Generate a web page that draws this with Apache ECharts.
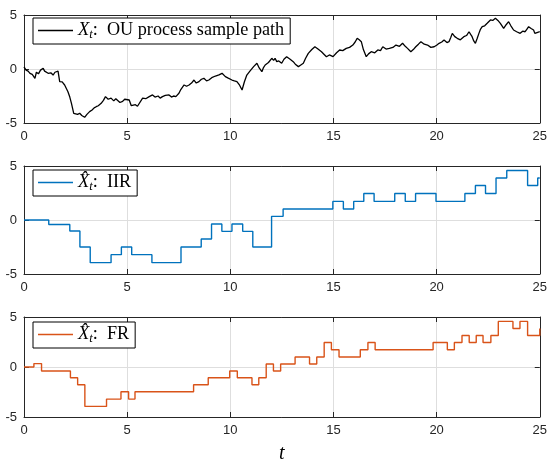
<!DOCTYPE html>
<html><head><meta charset="utf-8">
<script src="https://cdn.jsdelivr.net/npm/echarts@6/dist/echarts.min.js"></script>
<style>html,body{margin:0;padding:0;background:#fff}#c{width:550px;height:465px}</style>
</head><body><div id="c"></div>
<script>
// ---- data ----
const xTicks = [0, 5, 10, 15, 20, 25];
const yTicks = [-5, 0, 5];
// OU sample path [t, X_t]
const ouSamples = [[0,0.2],[0.1,-0.1],[0.2,-0.2],[0.29,-0.4],[0.4,-0.5],[0.53,-0.86],[0.6,-0.3],[0.7,-0.45],[0.8,-0.1],[0.93,0.06],[1.0,-0.2],[1.08,-0.1],[1.17,-0.4],[1.3,-0.35],[1.41,-0.56],[1.5,-0.3],[1.65,-0.19],[1.73,-1.17],[1.85,-1.2],[1.97,-1.48],[2.05,-1.6],[2.13,-2.1],[2.22,-2.6],[2.3,-3.18],[2.41,-4.1],[2.5,-4.0],[2.6,-4.2],[2.7,-4.1],[2.8,-4.3],[2.94,-4.47],[3.05,-4.2],[3.18,-3.95],[3.3,-3.8],[3.4,-3.6],[3.5,-3.49],[3.6,-3.4],[3.74,-3.18],[3.85,-2.9],[3.95,-2.56],[4.08,-2.8],[4.22,-2.7],[4.35,-2.95],[4.45,-2.75],[4.54,-2.87],[4.65,-3.1],[4.78,-3.0],[4.88,-2.8],[4.95,-2.7],[5.1,-2.87],[5.2,-3.4],[5.27,-3.49],[5.4,-3.3],[5.5,-3.45],[5.59,-3.33],[5.75,-2.7],[5.9,-2.75],[6.07,-2.56],[6.15,-2.65],[6.23,-2.4],[6.35,-2.6],[6.5,-2.5],[6.6,-2.7],[6.71,-2.56],[6.85,-2.45],[7.03,-2.4],[7.15,-2.6],[7.25,-2.5],[7.36,-2.56],[7.45,-2.4],[7.51,-2.25],[7.6,-1.9],[7.76,-1.48],[7.88,-1.6],[8.0,-1.48],[8.12,-1.3],[8.24,-1.02],[8.35,-1.3],[8.48,-1.17],[8.6,-0.95],[8.72,-0.86],[8.85,-1.1],[8.96,-1.02],[9.1,-0.8],[9.28,-0.65],[9.45,-0.55],[9.6,-0.4],[9.68,-0.55],[9.76,-0.71],[9.9,-0.85],[10.08,-1.02],[10.2,-1.1],[10.32,-1.17],[10.45,-1.5],[10.57,-1.94],[10.68,-1.2],[10.8,-0.56],[10.95,-0.2],[11.13,0.22],[11.2,0.35],[11.29,0.53],[11.4,0.1],[11.53,-0.25],[11.6,0.1],[11.69,0.37],[11.85,0.6],[12.01,0.99],[12.1,0.8],[12.17,0.99],[12.25,0.68],[12.35,0.75],[12.49,0.53],[12.6,0.9],[12.73,1.14],[12.9,0.9],[13.05,0.68],[13.15,0.45],[13.3,0.22],[13.4,0.35],[13.54,0.53],[13.65,1.0],[13.78,1.45],[13.95,1.8],[14.1,2.06],[14.25,1.85],[14.42,1.6],[14.55,1.35],[14.66,1.14],[14.8,1.3],[14.98,1.14],[15.15,1.5],[15.3,1.76],[15.45,1.7],[15.62,1.91],[15.78,2.0],[15.94,2.22],[16.05,2.5],[16.15,2.84],[16.25,2.7],[16.35,2.53],[16.45,1.8],[16.59,1.14],[16.7,1.4],[16.83,1.6],[17.0,1.5],[17.15,1.76],[17.28,1.7],[17.39,2.06],[17.55,1.85],[17.71,1.91],[17.88,2.0],[18.03,2.22],[18.2,2.1],[18.35,2.38],[18.48,2.1],[18.59,1.91],[18.75,1.6],[18.87,1.8],[18.99,2.06],[19.12,2.3],[19.24,2.53],[19.4,2.3],[19.56,2.22],[19.72,2.0],[19.88,2.06],[20.0,2.2],[20.12,2.38],[20.25,2.5],[20.36,2.68],[20.5,2.45],[20.6,2.53],[20.68,2.9],[20.76,3.3],[20.88,3.0],[21.0,2.84],[21.15,2.7],[21.32,2.99],[21.45,3.1],[21.57,3.45],[21.65,3.2],[21.72,2.99],[21.8,2.6],[21.88,2.38],[21.96,2.8],[22.05,3.3],[22.13,3.7],[22.21,3.92],[22.33,4.0],[22.45,4.23],[22.53,4.35],[22.61,4.54],[22.72,4.5],[22.85,4.69],[22.97,4.5],[23.09,4.23],[23.17,4.0],[23.25,3.77],[23.37,4.1],[23.49,4.38],[23.6,4.0],[23.73,3.61],[23.88,3.45],[24.05,3.3],[24.17,3.5],[24.29,3.45],[24.38,3.7],[24.46,3.92],[24.58,3.75],[24.7,3.61],[24.76,3.3],[24.82,3.14],[24.9,3.4],[25.0,3.45]];
// IIR estimate: level starts at iirTimes[i] with value iirValues[i]
const iirTimes  = [0, 1.2, 2.22, 2.71, 3.21, 4.22, 4.72, 5.22, 6.2, 7.61, 8.59, 9.09, 9.59, 10.08, 10.6, 11.09, 12.0, 12.56, 14.97, 15.48, 15.98, 16.47, 16.97, 17.97, 18.48, 18.98, 19.97, 21.37, 21.88, 22.37, 22.88, 23.4, 24.41, 24.9, 25];
const iirValues = [0, -0.41, -1.02, -2.5, -3.95, -3.21, -2.5, -3.21, -3.95, -2.5, -1.76, -0.37, -1.05, -0.37, -1.05, -2.5, 0.34, 1.02, 1.72, 1.02, 1.72, 2.46, 1.72, 2.46, 1.72, 2.46, 1.72, 2.46, 3.2, 2.46, 3.89, 4.59, 3.2, 3.89, 3.89];
// FR estimate
const frTimes  = [0, 0.48, 0.85, 2.25, 2.6, 2.95, 4.0, 4.7, 5.07, 5.38, 8.22, 8.93, 9.97, 10.34, 11.05, 11.38, 11.74, 12.09, 12.44, 13.14, 13.84, 14.19, 14.55, 14.9, 15.27, 16.3, 16.67, 17.02, 19.83, 20.52, 20.86, 21.23, 21.58, 21.92, 22.25, 22.63, 22.99, 23.7, 24.04, 24.41, 25];
const frValues = [0, 0.34, -0.4, -1.07, -1.77, -3.94, -3.21, -2.48, -3.21, -2.48, -1.77, -1.07, -0.4, -1.07, -1.77, -1.07, 0.3, -0.4, 0.3, 1.0, 0.3, 1.0, 2.45, 1.72, 1.0, 1.72, 2.45, 1.72, 2.45, 1.72, 2.45, 3.15, 2.45, 3.15, 2.45, 3.15, 4.56, 3.85, 4.56, 3.15, 3.85];
const seriesNames = ['ou', 'iir', 'fr'];
const seriesColors = ['#000000', '#0072BD', '#D95319'];
const legendLabels = {
  ou:  '{x|X}{s|t}{n|:  OU process sample path}',
  iir: '{x|X\u0302}{s|t}{n|:  IIR}',
  fr:  '{x|X\u0302}{s|t}{n|:  FR}'
};

// ---- chart ----
const chart = echarts.init(document.getElementById('c'), null, {renderer: 'canvas'});
const axisColor = '#262626';
const gridTops = [15, 166, 317];
const gridHeights = [108, 108, 109];
const grids = gridTops.map((t, i) => ({left: 24, top: t, width: 519, height: gridHeights[i], show: false}));

const xAxes = [], yAxes = [];
for (let i = 0; i < 3; i++) {
  const base = {type: 'value', gridIndex: i, min: xTicks[0], max: xTicks[xTicks.length - 1], interval: 5,
    axisLine: {show: true, onZero: false, lineStyle: {color: axisColor, width: 1}},
    axisTick: {show: true, inside: true, length: 5, lineStyle: {color: axisColor}}};
  xAxes.push(Object.assign({}, base, {position: 'bottom',
    axisLabel: {show: true, margin: 7, color: axisColor, fontSize: 13, fontFamily: 'Liberation Sans, Arial, sans-serif'},
    splitLine: {show: true, lineStyle: {color: '#dedede', width: 1}},
    name: i === 2 ? 't' : '', nameLocation: 'middle', nameGap: 27,
    nameTextStyle: {fontFamily: 'Liberation Serif, serif', fontStyle: 'italic', fontSize: 20, color: '#000'}}));
  xAxes.push(Object.assign({}, base, {position: 'top', axisLabel: {show: false}, splitLine: {show: false}}));
  const ybase = {type: 'value', gridIndex: i, min: yTicks[0], max: yTicks[yTicks.length - 1], interval: 5,
    axisLine: {show: true, onZero: false, lineStyle: {color: axisColor, width: 1}},
    axisTick: {show: true, inside: true, length: 5, lineStyle: {color: axisColor}}};
  yAxes.push(Object.assign({}, ybase, {position: 'left',
    axisLabel: {show: true, margin: 7, color: axisColor, fontSize: 13, fontFamily: 'Liberation Sans, Arial, sans-serif'},
    splitLine: {show: true, lineStyle: {color: '#dedede', width: 1}}}));
  yAxes.push(Object.assign({}, ybase, {position: 'right', axisLabel: {show: false}, splitLine: {show: false}}));
}

const seriesData = [
  ouSamples,
  iirTimes.map((t, i) => [t, iirValues[i]]),
  frTimes.map((t, i) => [t, frValues[i]])
];

const series = seriesNames.map((n, i) => ({
  name: n, type: 'line', xAxisIndex: 2 * i, yAxisIndex: 2 * i,
  data: seriesData[i], symbol: 'none', step: i === 0 ? false : 'end',
  lineStyle: {color: seriesColors[i], width: i === 0 ? 1.3 : 1.4},
  itemStyle: {color: seriesColors[i]}, animation: false, z: 5
}));

const legendLefts = [33, 33, 33];
const legendTops = [18, 170, 322];
const rich = {
  x: {fontFamily: 'Liberation Serif, serif', fontStyle: 'italic', fontSize: 18.5, color: '#000', lineHeight: 21},
  s: {fontFamily: 'Liberation Serif, serif', fontStyle: 'italic', fontSize: 12.5, color: '#000', lineHeight: 21, verticalAlign: 'bottom', padding: [6, 0, 0, 0]},
  n: {fontFamily: 'Liberation Serif, serif', fontSize: 18.2, color: '#000', lineHeight: 21}
};
const legends = seriesNames.map((n, i) => ({
  data: [n], left: legendLefts[i], top: legendTops[i], orient: 'horizontal',
  backgroundColor: '#fff', borderColor: '#000', borderWidth: 1, borderRadius: 0,
  padding: [3, 6, 3, 5], itemWidth: 35, itemHeight: 1.4, itemGap: 5, icon: 'rect',
  formatter: name => legendLabels[name],
  textStyle: {rich: rich}, selectedMode: false
}));

chart.setOption({
  animation: false,
  backgroundColor: '#fff',
  grid: grids, xAxis: xAxes, yAxis: yAxes, series: series, legend: legends
});
</script></body></html>
